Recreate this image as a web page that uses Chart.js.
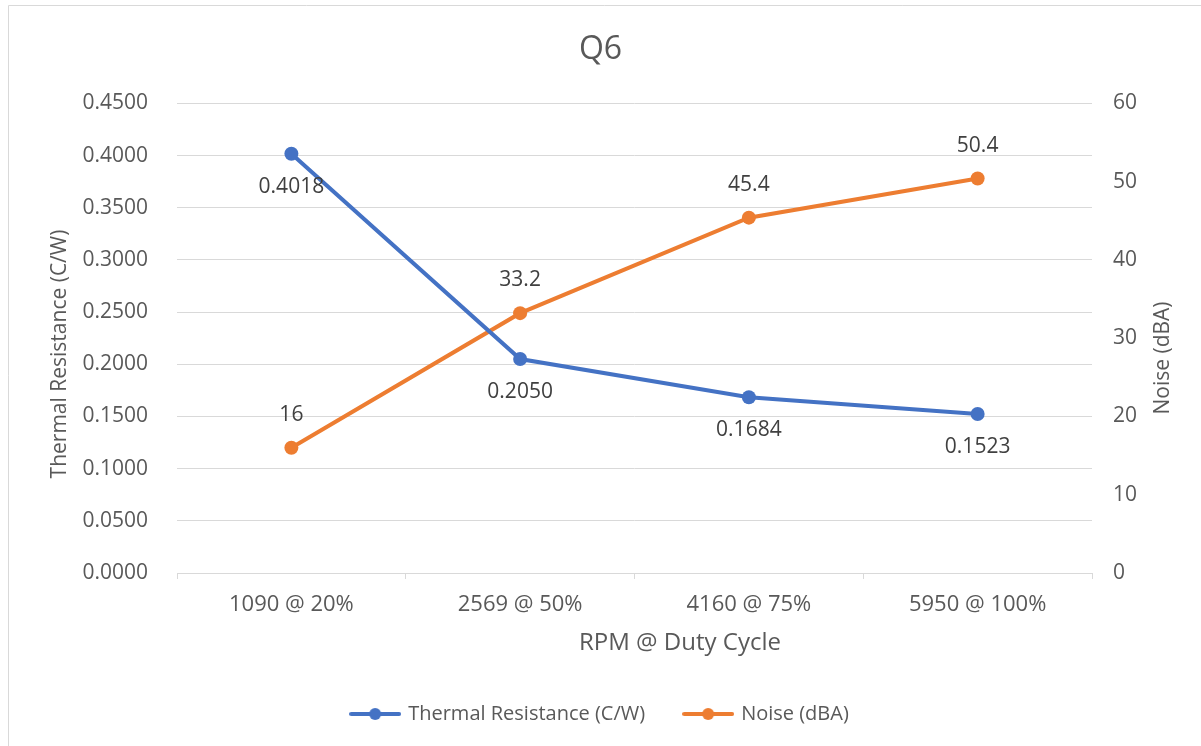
<!DOCTYPE html>
<html>
<head>
<meta charset="utf-8">
<title>Q6</title>
<script src="https://cdn.jsdelivr.net/npm/chart.js@4.4.1/dist/chart.umd.min.js"></script>
<style>
  html, body { margin: 0; padding: 0; background: #ffffff; }
  #wrap { position: relative; width: 1201px; height: 746px; }
</style>
</head>
<body>
<div id="wrap"><canvas id="chart" width="1201" height="746"></canvas></div>
<script>
// Chart data
const categories = ['1090 @ 20%', '2569 @ 50%', '4160 @ 75%', '5950 @ 100%'];
const thermalResistance = [0.4018, 0.2050, 0.1684, 0.1523];
const noise = [16, 33.2, 45.4, 50.4];

const BLUE = '#4472C4';
const ORANGE = '#ED7D31';
const TEXT = '#595959';
const GRID = '#d9d9d9';
const FONT = '"Open Sans", "Liberation Sans", sans-serif';

// small legend marker: line with a dot in the middle
function makeMarker(color) {
    const c = document.createElement('canvas');
    c.width = 52;
    c.height = 14;
    const ctx = c.getContext('2d');
    ctx.strokeStyle = color;
    ctx.lineWidth = 4;
    ctx.lineCap = 'round';
    ctx.beginPath();
    ctx.moveTo(2, 7);
    ctx.lineTo(50, 7);
    ctx.stroke();
    ctx.fillStyle = color;
    ctx.beginPath();
    ctx.arc(26, 7, 6, 0, Math.PI * 2);
    ctx.fill();
    return c;
}
const markers = [makeMarker(BLUE), makeMarker(ORANGE)];

// value labels next to each point
const valueLabels = {
    id: 'valueLabels',
    afterDatasetsDraw(chart) {
        const ctx = chart.ctx;
        ctx.save();
        ctx.font = '21px ' + FONT;
        ctx.fillStyle = '#404040';
        ctx.textAlign = 'center';
        ctx.textBaseline = 'middle';
        chart.data.datasets.forEach((ds, i) => {
            const meta = chart.getDatasetMeta(i);
            meta.data.forEach((pt, j) => {
                const v = ds.data[j];
                const text = i === 0 ? v.toFixed(4) : String(v);
                const dy = i === 0 ? 33 : -33;
                ctx.fillText(text, pt.x, pt.y + dy);
            });
        });
        ctx.restore();
    }
};

// frame and axis titles (Excel-like placement)
function drawText(ctx, text, x, y, size, rotate) {
    ctx.save();
    ctx.font = size + 'px ' + FONT;
    ctx.fillStyle = TEXT;
    ctx.textAlign = 'center';
    ctx.textBaseline = 'middle';
    ctx.translate(x, y);
    if (rotate) ctx.rotate(-Math.PI / 2);
    ctx.fillText(text, 0, 0);
    ctx.restore();
}

const extras = {
    id: 'extras',
    afterDraw(chart) {
        const ctx = chart.ctx;
        ctx.save();
        ctx.strokeStyle = GRID;
        ctx.lineWidth = 1;
        ctx.beginPath();
        ctx.moveTo(8.5, 746);
        ctx.lineTo(8.5, 5.5);
        ctx.lineTo(1201, 5.5);
        ctx.stroke();
        ctx.restore();

        drawText(ctx, 'Thermal Resistance (C/W)', 60, 354, 21, true);
        drawText(ctx, 'Noise (dBA)', 1163, 358, 21, true);
        drawText(ctx, 'RPM @ Duty Cycle', 680, 643, 24, false);
    }
};

const ctx = document.getElementById('chart').getContext('2d');
const chart = new Chart(ctx, {
    type: 'line',
    data: {
        labels: categories,
        datasets: [{
            label: 'Thermal Resistance (C/W)',
            data: thermalResistance,
            yAxisID: 'y',
            borderColor: BLUE,
            backgroundColor: BLUE,
            borderWidth: 4,
            pointRadius: 7,
            pointHoverRadius: 7,
            pointBorderWidth: 0,
            tension: 0
        }, {
            label: 'Noise (dBA)',
            data: noise,
            yAxisID: 'y1',
            borderColor: ORANGE,
            backgroundColor: ORANGE,
            borderWidth: 4,
            pointRadius: 7,
            pointHoverRadius: 7,
            pointBorderWidth: 0,
            tension: 0
        }]
    },
    options: {
        responsive: false,
        animation: false,
        layout: { padding: { left: 0, right: 0, top: 0, bottom: 12 } },
        plugins: {
            title: {
                display: true,
                text: 'Q6',
                color: TEXT,
                font: { family: FONT, size: 32, weight: 'normal' },
                padding: { top: 31, bottom: 34 }
            },
            legend: {
                position: 'bottom',
                labels: {
                    color: TEXT,
                    font: { family: FONT, size: 20 },
                    usePointStyle: true,
                    pointStyleWidth: 46,
                    padding: 40,
                    generateLabels(chart) {
                        const items = Chart.defaults.plugins.legend.labels.generateLabels(chart);
                        items.forEach((it, i) => { it.pointStyle = markers[i]; });
                        return items;
                    }
                }
            },
            tooltip: { enabled: false }
        },
        scales: {
            x: {
                offset: true,
                afterFit(scale) { scale.height = 91; },
                grid: { drawOnChartArea: false, drawTicks: true, tickLength: 6, color: GRID, offset: true },
                border: { color: GRID },
                ticks: { color: TEXT, font: { family: FONT, size: 22 }, padding: 13, maxRotation: 0 }
            },
            y: {
                position: 'left',
                min: 0,
                max: 0.45,
                afterFit(scale) { scale.width = 177; },
                grid: { color: GRID, drawTicks: false },
                border: { display: false },
                ticks: {
                    stepSize: 0.05,
                    color: TEXT,
                    font: { family: FONT, size: 21 },
                    padding: 29,
                    callback: v => v.toFixed(4)
                }
            },
            y1: {
                position: 'right',
                min: 0,
                max: 60,
                afterFit(scale) { scale.width = 109; },
                grid: { drawOnChartArea: false, drawTicks: false },
                border: { display: false },
                ticks: {
                    stepSize: 10,
                    color: TEXT,
                    font: { family: FONT, size: 21 },
                    padding: 21
                }
            }
        }
    },
    plugins: [valueLabels, extras]
});
</script>
</body>
</html>
